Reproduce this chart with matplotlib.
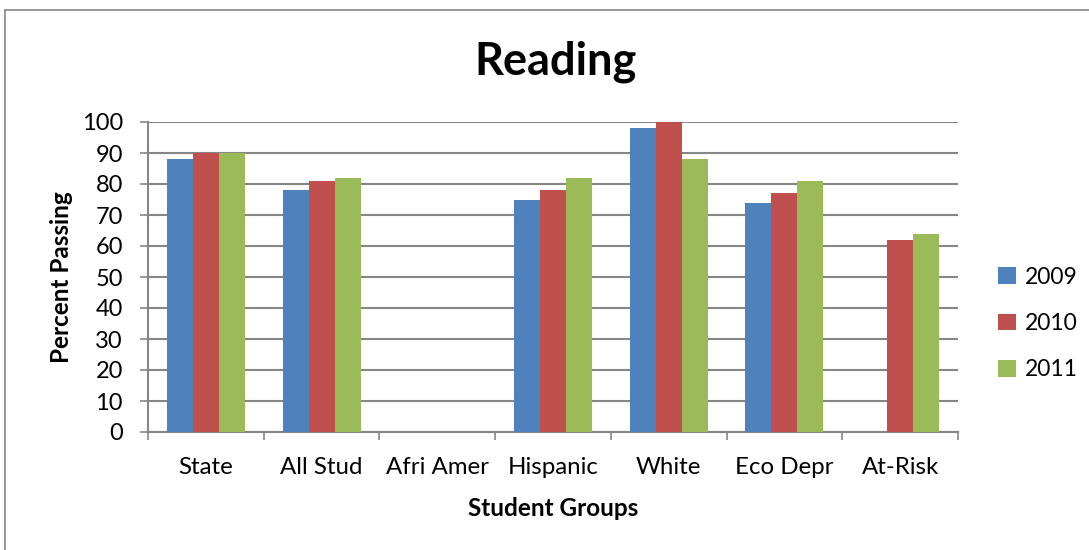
import numpy as np
import matplotlib.pyplot as plt
from matplotlib.lines import Line2D

groups = ['State', 'All Stud', 'Afri Amer', 'Hispanic', 'White', 'Eco Depr', 'At-Risk']
years = ['2009', '2010', '2011']
v2009 = [88, 78, np.nan, 75, 98, 74, np.nan]
v2010 = [90, 81, np.nan, 78, 100, 77, 62]
v2011 = [90, 82, np.nan, 82, 88, 81, 64]
colors = ['#4F81BD', '#C0504D', '#9BBB59']

plt.rcParams['font.family'] = ['Lato', 'DejaVu Sans']

fig = plt.figure(figsize=(10.89, 5.5), dpi=100)
ax = fig.add_axes([148 / 1089, 1 - 432 / 550, 810 / 1089, 310 / 550])

x = np.arange(len(groups))
w = 0.225
for i, (vals, c, lab) in enumerate(zip([v2009, v2010, v2011], colors, years)):
    ax.bar(x + (i - 1) * w, vals, width=w, color=c, label=lab, zorder=3)

ax.set_xlim(-0.5, len(groups) - 0.5)
ax.set_ylim(0, 100)
ax.set_yticks(range(0, 101, 10))
ax.set_xticks(x)
ax.set_xticklabels(groups)
ax.set_xticks(np.arange(-0.5, len(groups)), minor=True)
ax.tick_params(axis='x', which='major', length=0, labelsize=17.3, pad=18)
ax.tick_params(axis='x', which='minor', length=6, color='#868686', width=1.2)
ax.tick_params(axis='y', length=6, color='#868686', width=1.2, labelsize=17, pad=12)

ax.grid(axis='y', color='#868686', linewidth=1.5, zorder=0)
for s in ['top', 'right']:
    ax.spines[s].set_visible(False)
for s in ['left', 'bottom']:
    ax.spines[s].set_color('#868686')
    ax.spines[s].set_linewidth(1.5)

ax.set_xlabel('Student Groups', fontsize=17.5, fontweight='bold', labelpad=14)
ax.set_ylabel('Percent Passing', fontsize=17.5, fontweight='bold', labelpad=6)
fig.text(556 / 1089, 1 - 62 / 550, 'Reading', fontsize=32.5, fontweight='bold',
         ha='center', va='center')

ax.legend(loc='center left', bbox_to_anchor=(1.05, 0.35), frameon=False,
          fontsize=16.5, handlelength=0.75, handleheight=0.75, labelspacing=1.1,
          handletextpad=0.4, borderaxespad=0, borderpad=0)

# outer chart border
fig.add_artist(Line2D([5 / 1089, 5 / 1089], [0, 1 - 10 / 550], color='#868686',
                      linewidth=1.2, transform=fig.transFigure))
fig.add_artist(Line2D([5 / 1089, 1], [1 - 10 / 550, 1 - 10 / 550], color='#868686',
                      linewidth=1.2, transform=fig.transFigure))

fig.savefig('out.png', dpi=100)
